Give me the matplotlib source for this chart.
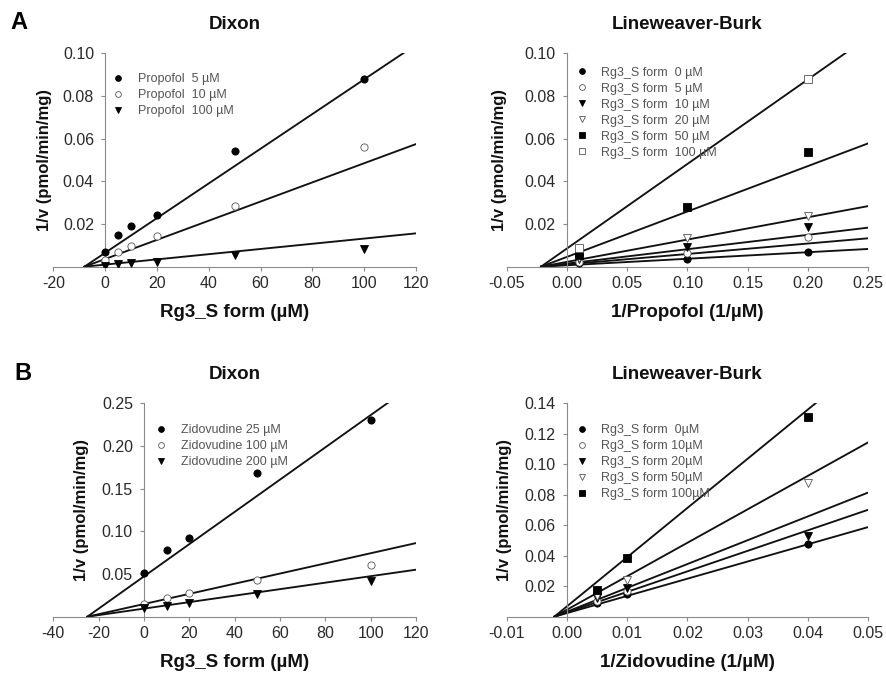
import numpy as np
import matplotlib
matplotlib.use("Agg")
import matplotlib.pyplot as plt

plt.rcParams['font.family'] = ['Liberation Sans', 'DejaVu Sans']

# ---------------- Panel A: Propofol ----------------
dixon_a_x = [0, 5, 10, 20, 50, 100]
dixon_a_labels = ["Propofol  5 \u00b5M", "Propofol  10 \u00b5M", "Propofol  100 \u00b5M"]
dixon_a_y = [
    [0.0067, 0.0147, 0.0191, 0.0242, 0.0544, 0.0880],
    [0.0033, 0.0067, 0.0097, 0.0144, 0.0282, 0.0560],
    [0.0004, 0.0012, 0.0016, 0.0023, 0.0055, 0.0081],
]
dixon_a_slope = [0.000813, 0.000449, 0.000122]
dixon_a_xint = -8.0

lb_a_x = [0.01, 0.1, 0.2]
lb_a_labels = ["Rg3_S form  0 \u00b5M", "Rg3_S form  5 \u00b5M", "Rg3_S form  10 \u00b5M",
               "Rg3_S form  20 \u00b5M", "Rg3_S form  50 \u00b5M", "Rg3_S form  100 \u00b5M"]
lb_a_y = [
    [0.0018, 0.0034, 0.0067],
    [0.0022, 0.0063, 0.0141],
    [0.0035, 0.0090, 0.0185],
    [0.0040, 0.0136, 0.0238],
    [0.0055, 0.0278, 0.0539],
    [0.0086, np.nan, 0.0878],
]
lb_a_slope = [0.0306, 0.0490, 0.0674, 0.1046, 0.2129, 0.3963]
lb_a_xint = -0.0215

# ---------------- Panel B: Zidovudine ----------------
dixon_b_x = [0, 10, 20, 50, 100]
dixon_b_labels = ["Zidovudine 25 \u00b5M", "Zidovudine 100 \u00b5M", "Zidovudine 200 \u00b5M"]
dixon_b_y = [
    [0.0510, 0.0780, 0.0920, 0.1680, 0.2310],
    [0.0149, 0.0215, 0.0281, 0.0430, 0.0610],
    [0.0098, 0.0125, 0.0164, 0.0266, 0.0420],
]
dixon_b_slope = [0.00189, 0.000595, 0.000380]
dixon_b_xint = -25.0

lb_b_x = [0.005, 0.01, 0.04]
lb_b_labels = ["Rg3_S form  0\u00b5M", "Rg3_S form 10\u00b5M", "Rg3_S form 20\u00b5M",
               "Rg3_S form 50\u00b5M", "Rg3_S form 100\u00b5M"]
lb_b_y = [
    [0.0091, 0.0152, 0.0479],
    [0.0105, 0.0167, np.nan],
    [0.0120, 0.0189, 0.0531],
    [0.0134, 0.0244, 0.0876],
    [0.0178, 0.0385, 0.1308],
]
lb_b_slope = [1.129, 1.347, 1.564, 2.196, 3.230]
lb_b_xint = -0.0021

# marker styles: (marker, filled)
styles = [("o", True), ("o", False), ("v", True), ("v", False), ("s", True), ("s", False)]

SPINE = "#8a8a8a"
TICKC = "#2a2a2a"
LEGC = "#555555"


def panel(rect, title, xlabel, xs, ys, labels, slopes, xint,
          xlim, ylim, xticks, xtick_fmt, yticks, ytick_fmt, leg_anchor, ylab_x):
    ax = fig.add_axes(rect)
    handles = []
    for i, (yv, lab) in enumerate(zip(ys, labels)):
        m, filled = styles[i]
        h, = ax.plot(xs, yv, linestyle="none", marker=m, markersize=5.2,
                     markerfacecolor="black" if filled else "white",
                     markeredgecolor="black" if filled else "#555555",
                     markeredgewidth=0.6, zorder=3, label=lab)
        handles.append(h)
    for s in slopes:
        xl = np.array([xint, xlim[1]])
        ax.plot(xl, s * (xl - xint), color="#111111", lw=1.35, zorder=2)
    ax.set_xlim(*xlim)
    ax.set_ylim(*ylim)
    for side in ("top", "right"):
        ax.spines[side].set_visible(False)
    ax.spines["left"].set_position(("data", 0))
    ax.spines["left"].set_color(SPINE)
    ax.spines["bottom"].set_color(SPINE)
    ax.spines["left"].set_linewidth(0.8)
    ax.spines["bottom"].set_linewidth(0.8)
    ax.set_xticks(xticks)
    ax.set_xticklabels([xtick_fmt.format(v) for v in xticks])
    ax.set_yticks(yticks)
    ax.set_yticklabels([ytick_fmt.format(v) for v in yticks])
    ax.tick_params(axis="both", colors=SPINE, labelcolor=TICKC, labelsize=11.5,
                   length=3, width=0.8, direction="out")
    ax.tick_params(axis="x", pad=4)
    ax.tick_params(axis="y", pad=5)
    ax.set_title(title, fontsize=13.5, fontweight="bold", pad=17.5, color="#111111")
    ax.set_xlabel(xlabel, fontsize=13.5, fontweight="bold", color="#111111")
    ax.xaxis.set_label_coords(0.5, -0.215)
    ax.xaxis.label.set_va("center")
    ax.set_ylabel("1/v (pmol/min/mg)", fontsize=12, fontweight="bold", color="#111111")
    ax.yaxis.set_label_coords(ylab_x, 0.5)
    ax.yaxis.label.set_va("center")
    leg = ax.legend(handles=handles, loc="upper left", bbox_to_anchor=leg_anchor,
                    frameon=False, fontsize=9, labelspacing=0.32, handletextpad=1.1,
                    handlelength=0.9, markerscale=0.8, borderaxespad=0)
    for t in leg.get_texts():
        t.set_color(LEGC)
    return ax


fig = plt.figure(figsize=(8.87, 6.76), dpi=100)

panel([0.0601, 0.6055, 0.409, 0.3157], "Dixon", "Rg3_S form (\u00b5M)",
      dixon_a_x, dixon_a_y, dixon_a_labels, dixon_a_slope, dixon_a_xint,
      (-20, 120), (0, 0.10), list(range(-20, 121, 20)), "{:d}",
      [0.02, 0.04, 0.06, 0.08, 0.10], "{:.2f}", (0.15, 0.93), -0.023)

panel([0.5712, 0.6055, 0.4077, 0.3157], "Lineweaver-Burk", "1/Propofol (1/\u00b5M)",
      lb_a_x, lb_a_y, lb_a_labels, lb_a_slope, lb_a_xint,
      (-0.05, 0.25), (0, 0.10), [-0.05, 0.0, 0.05, 0.10, 0.15, 0.20, 0.25], "{:.2f}",
      [0.02, 0.04, 0.06, 0.08, 0.10], "{:.2f}", (0.178, 0.96), -0.0185)

panel([0.0601, 0.0877, 0.409, 0.3157], "Dixon", "Rg3_S form (\u00b5M)",
      dixon_b_x, dixon_b_y, dixon_b_labels, dixon_b_slope, dixon_b_xint,
      (-40, 120), (0, 0.25), list(range(-40, 121, 20)), "{:d}",
      [0.05, 0.10, 0.15, 0.20, 0.25], "{:.2f}", (0.268, 0.925), 0.078)

panel([0.5712, 0.0877, 0.4077, 0.3157], "Lineweaver-Burk", "1/Zidovudine (1/\u00b5M)",
      lb_b_x, lb_b_y, lb_b_labels, lb_b_slope, lb_b_xint,
      (-0.01, 0.05), (0, 0.14), [-0.01, 0.0, 0.01, 0.02, 0.03, 0.04, 0.05], "{:.2f}",
      [0.02, 0.04, 0.06, 0.08, 0.10, 0.12, 0.14], "{:.2f}", (0.178, 0.925), -0.005)

fig.text(0.012, 0.966, "A", fontsize=17, fontweight="bold", va="center", ha="left")
fig.text(0.016, 0.448, "B", fontsize=17, fontweight="bold", va="center", ha="left")

fig.savefig("out.png", dpi=100)
